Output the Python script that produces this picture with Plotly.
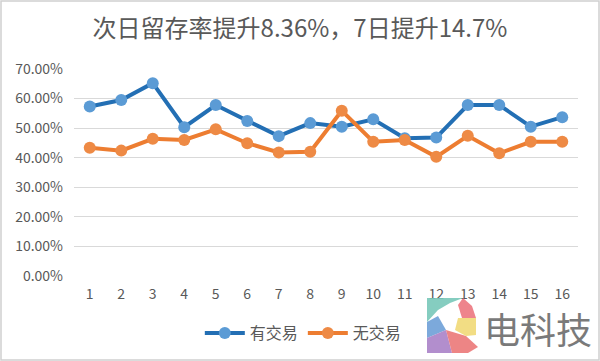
import plotly.graph_objects as go

days = [str(i) for i in range(1, 17)]
with_trade = [0.573, 0.595, 0.652, 0.503, 0.578, 0.524, 0.473, 0.517,
              0.505, 0.530, 0.466, 0.468, 0.578, 0.578, 0.505, 0.537]
no_trade = [0.434, 0.424, 0.464, 0.460, 0.496, 0.449, 0.418, 0.420,
            0.559, 0.454, 0.460, 0.403, 0.474, 0.415, 0.454, 0.454]
y_ticks = [0, 0.1, 0.2, 0.3, 0.4, 0.5, 0.6, 0.7]
y_tick_labels = ["0.00%", "10.00%", "20.00%", "30.00%", "40.00%", "50.00%", "60.00%", "70.00%"]

W, H = 600, 361
L, R, T, B = 74, 22, 69, 85
PW, PH = W - L - R, H - T - B

def px(x):
    return (x - L) / PW

def py(y):
    return (H - B - y) / PH

fig = go.Figure()
fig.add_trace(go.Scatter(
    x=days, y=with_trade, name="有交易", mode="lines+markers",
    line=dict(color="#236FB4", width=4),
    marker=dict(color="#5B9BD5", size=12),
))
fig.add_trace(go.Scatter(
    x=days, y=no_trade, name="无交易", mode="lines+markers",
    line=dict(color="#ED7D31", width=4),
    marker=dict(color="#EE8A45", size=12),
))

font_family = "Noto Sans CJK SC, Noto Sans, sans-serif"

fig.update_layout(
    width=W, height=H,
    margin=dict(l=L, r=R, t=T, b=B, autoexpand=False),
    paper_bgcolor="white", plot_bgcolor="white",
    font=dict(family=font_family, color="#595959", size=13),
    title=dict(text="次日留存率提升8.36%，7日提升14.7%", x=0.5, xanchor="center",
               y=1 - 29 / H, yanchor="middle",
               font=dict(size=24, color="#595959", family=font_family)),
    showlegend=True,
    legend=dict(orientation="h", x=0.455, xanchor="center", y=py(333), yanchor="middle",
                font=dict(size=16, color="#595959"), itemwidth=40,
                bgcolor="rgba(0,0,0,0)"),
    xaxis=dict(type="category", range=[-0.5, len(days) - 0.5],
               showgrid=False, zeroline=False, showline=False,
               automargin=False, ticklabelstandoff=8,
               ticks="", tickfont=dict(size=14, color="#595959"), fixedrange=True),
    yaxis=dict(range=[0, 0.7], tickvals=y_ticks, ticktext=y_tick_labels,
               automargin=False, ticklabelstandoff=10,
               showgrid=True, gridcolor="#D9D9D9", gridwidth=1, zeroline=False,
               showline=False, ticks="", tickfont=dict(size=14, color="#595959"),
               fixedrange=True),
)

shapes = []
shapes.append(dict(type="rect", xref="paper", yref="paper",
                   x0=px(1), x1=px(W - 1), y0=py(H - 1), y1=py(1),
                   line=dict(color="#D0D0D0", width=1.5), fillcolor="rgba(0,0,0,0)", layer="below"))

def path(points):
    return "M " + " L ".join(f"{px(x)},{py(y)}" for x, y in points) + " Z"

logo = [
    ([(427, 298), (463, 298), (450, 303), (438, 310), (427, 322)], "rgba(120,200,185,0.9)"),
    ([(427, 322), (438, 316), (446, 330), (427, 338)], "rgba(110,160,215,0.9)"),
    ([(427, 338), (446, 330), (452, 353), (427, 353)], "rgba(170,130,200,0.9)"),
    ([(446, 330), (466, 336), (478, 347), (468, 353), (452, 353)], "rgba(235,120,120,0.9)"),
    ([(463, 298), (472, 306), (476, 318), (462, 318), (458, 305)], "rgba(235,110,120,0.85)"),
    ([(458, 318), (476, 318), (476, 335), (466, 336), (455, 330)], "rgba(240,215,110,0.85)"),
]
for pts, col in logo:
    shapes.append(dict(type="path", xref="paper", yref="paper", path=path(pts),
                       fillcolor=col, line=dict(width=0), layer="above"))
fig.update_layout(shapes=shapes)

fig.add_annotation(text="电科技", xref="paper", yref="paper", x=px(538), y=py(328),
                   xanchor="center", yanchor="middle", showarrow=False,
                   font=dict(size=36, color="#7A7A7A", family=font_family))

fig.write_html("out.html", config={"displayModeBar": False},
               post_script="document.body.style.margin='0';document.body.style.overflow='hidden';")
